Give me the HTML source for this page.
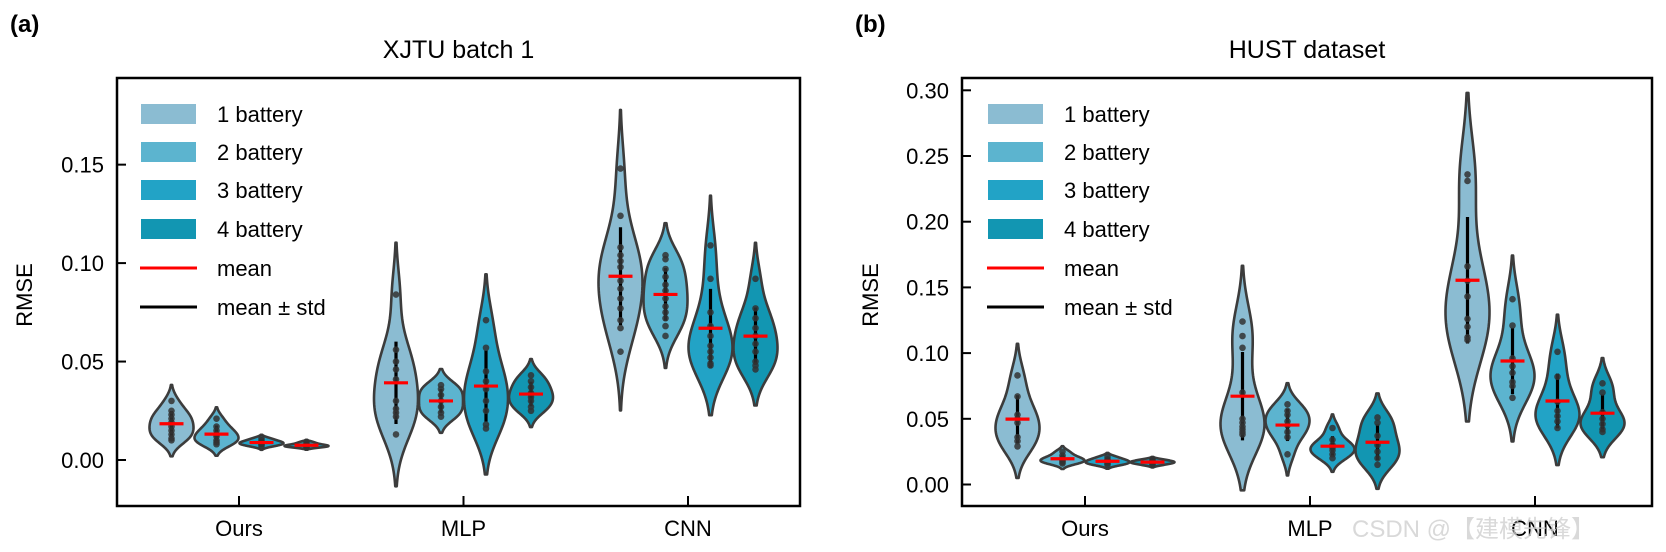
<!DOCTYPE html>
<html><head><meta charset="utf-8"><style>
html,body{margin:0;padding:0;background:#fff;}
svg{display:block;font-family:"Liberation Sans","Noto Sans CJK SC",sans-serif;}
</style></head><body>
<svg id="chart" width="1666" height="552" viewBox="0 0 1666 552" xmlns="http://www.w3.org/2000/svg"></svg>
<script>
const categories = ["Ours", "MLP", "CNN"];
const seriesNames = ["1 battery", "2 battery", "3 battery", "4 battery"];
const seriesColors = ["#8bbcd2", "#5cb4cf", "#22a3c6", "#1296b2"];
// Panel (a) XJTU batch 1 : [category][series] sample points
const xjtuOurs = [
  [0.030,0.025,0.023,0.021,0.019,0.017,0.015,0.013,0.011,0.010],
  [0.021,0.017,0.015,0.013,0.012,0.010,0.009,0.008],
  [0.011,0.010,0.009,0.009,0.008,0.008,0.007],
  [0.009,0.008,0.0075,0.007,0.007,0.0065]];
const xjtuMLP = [
  [0.084,0.056,0.050,0.046,0.041,0.030,0.026,0.024,0.022,0.013],
  [0.038,0.036,0.033,0.030,0.027,0.024,0.022],
  [0.071,0.057,0.045,0.040,0.036,0.030,0.025,0.018,0.016],
  [0.043,0.040,0.037,0.034,0.032,0.030,0.027,0.025]];
const xjtuCNN = [
  [0.148,0.124,0.108,0.104,0.101,0.098,0.091,0.087,0.082,0.077,0.071,0.067,0.055],
  [0.104,0.102,0.097,0.093,0.089,0.086,0.082,0.078,0.075,0.072,0.068,0.063],
  [0.109,0.092,0.075,0.068,0.063,0.058,0.055,0.052,0.049,0.048],
  [0.092,0.077,0.072,0.067,0.063,0.059,0.055,0.050,0.048,0.046]];
// Panel (b) HUST dataset
const hustOurs = [
  [0.083,0.067,0.053,0.050,0.047,0.036,0.033,0.029],
  [0.025,0.022,0.020,0.019,0.018,0.017,0.016],
  [0.021,0.019,0.018,0.017,0.016,0.015],
  [0.019,0.018,0.017,0.017,0.016,0.015]];
const hustMLP = [
  [0.124,0.113,0.104,0.070,0.050,0.047,0.044,0.042,0.040,0.038],
  [0.061,0.056,0.053,0.048,0.045,0.040,0.036,0.023],
  [0.043,0.034,0.030,0.028,0.026,0.023,0.020],
  [0.051,0.047,0.037,0.030,0.025,0.020,0.015]];
const hustCNN = [
  [0.236,0.231,0.166,0.155,0.143,0.126,0.120,0.112,0.110],
  [0.141,0.121,0.096,0.090,0.085,0.078,0.075,0.066],
  [0.101,0.082,0.063,0.056,0.052,0.048,0.043],
  [0.077,0.070,0.055,0.050,0.046,0.042,0.040]];
const xjtuTicks = [0.00, 0.05, 0.10, 0.15];
const xjtuTickLabels = ["0.00","0.05","0.10","0.15"];
const hustTicks = [0.00,0.05,0.10,0.15,0.20,0.25,0.30];
const hustTickLabels = ["0.00","0.05","0.10","0.15","0.20","0.25","0.30"];
const legendLabels = ["1 battery","2 battery","3 battery","4 battery","mean","mean \u00b1 std"];

const NS = "http://www.w3.org/2000/svg";
const svg = document.getElementById("chart");
function mk(tag, attrs, parent, text) {
  const e = document.createElementNS(NS, tag);
  for (const k in attrs) e.setAttribute(k, attrs[k]);
  if (text !== undefined) e.textContent = text;
  (parent || svg).appendChild(e);
  return e;
}
function stats(a) {
  const n = a.length, m = a.reduce((s,v)=>s+v,0)/n;
  const sd = Math.sqrt(a.reduce((s,v)=>s+(v-m)*(v-m),0)/(n-1));
  return {m, sd, n};
}

function panel(opt) {
  const g = mk("g", {});
  
  
  const L = opt.left, R = opt.right, T = 78, B = 506;
  const yS = v => opt.y0 - v * opt.ppu;
  const step = opt.step, dodge = 45;
  const xCat = i => opt.tick0 + i * step;

  const lab = mk("text", {x: opt.labelX, y: 32, "font-size": 24, "font-weight": "bold"}, g, opt.letter);
  
  
  const ttl = mk("text", {x: (L+R)/2, y: 58, "font-size": 25, "text-anchor": "middle"}, g, opt.title);
  
  
  const yt = mk("text", {transform: `translate(${opt.yTitleX},295) rotate(-90)`, "font-size": 22, "text-anchor": "middle"}, g, "RMSE");
  
  

  opt.groups.forEach((grp, ci) => {
    grp.forEach((pts, si) => {
      const cx = xCat(ci) + (si - 1.5) * dodge;
      const st = stats(pts);
      const bw = st.sd * Math.pow(st.n, -0.2);
      const lo = Math.min(...pts) - 2*bw, hi = Math.max(...pts) + 2*bw;
      const N = 80, dens = [];
      for (let k = 0; k <= N; k++) {
        const v = lo + (hi-lo)*k/N;
        let d = 0;
        pts.forEach(p => { const z = (v-p)/bw; d += Math.exp(-0.5*z*z); });
        dens.push([v, d]);
      }
      const mx = Math.max(...dens.map(d=>d[1]));
      const hw = 22;
      let path = "";
      dens.forEach((d,k) => { path += (k?"L":"M") + (cx + d[1]/mx*hw).toFixed(2) + "," + yS(d[0]).toFixed(2); });
      for (let k = dens.length-1; k >= 0; k--) path += "L" + (cx - dens[k][1]/mx*hw).toFixed(2) + "," + yS(dens[k][0]).toFixed(2);
      path += "Z";
      const vp = mk("path", {d: path, fill: seriesColors[si], stroke: "#3c3c3c", "stroke-width": 2.6, "stroke-linejoin": "round"}, g);
      
      
      const sb = mk("line", {x1: cx, x2: cx, y1: yS(st.m - st.sd), y2: yS(st.m + st.sd), stroke: "#000", "stroke-width": 3.2}, g);
      
      
      pts.forEach(p => {
        const c = mk("circle", {cx: cx, cy: yS(p), r: 3.3, fill: "#333", "fill-opacity": 0.85}, g);
        
        
      });
      const ml = mk("line", {x1: cx - 12, x2: cx + 12, y1: yS(st.m), y2: yS(st.m), stroke: "#ff0000", "stroke-width": 3.2}, g);
      
      
    });
  });

  const fr = mk("rect", {x: L, y: T, width: R-L, height: B-T, fill: "none", stroke: "#000", "stroke-width": 2.5}, g);
  
  
  opt.ticks.forEach((t, i) => {
    const y = yS(t);
    const tl = mk("line", {x1: L, x2: L + 9, y1: y, y2: y, stroke: "#000", "stroke-width": 2}, g);
    
    
    const tx = mk("text", {x: L - 13, y: y + 8, "font-size": 22, "text-anchor": "end"}, g, opt.tickLabels[i]);
    
    
  });
  categories.forEach((c, i) => {
    const x = xCat(i);
    const tl = mk("line", {x1: x, x2: x, y1: B, y2: B - 10, stroke: "#000", "stroke-width": 2}, g);
    
    
    const tx = mk("text", {x: x, y: 536, "font-size": 22, "text-anchor": "middle"}, g, c);
    
    
  });

  const lg = mk("g", {}, g);
  
  
  const rows = [114,152,190,229,268,307];
  legendLabels.forEach((t, i) => {
    const y = rows[i];
    let sw;
    if (i < 4) sw = mk("rect", {x: opt.legX, y: y - 10, width: 55, height: 20, fill: seriesColors[i]}, lg);
    else sw = mk("line", {x1: opt.legX - 1, x2: opt.legX + 56, y1: y, y2: y, stroke: i === 4 ? "#ff0000" : "#000", "stroke-width": 3}, lg);
    
    
    const tx = mk("text", {x: opt.legX + 76, y: y + 8, "font-size": 22}, lg, t);
    
    
  });
}

panel({name: "panel-a", letter: "(a)", title: "XJTU batch 1", labelX: 10, left: 117, right: 800,
  y0: 460, ppu: 1969, tick0: 239, step: 224.5, yTitleX: 32, legX: 141,
  groups: [xjtuOurs, xjtuMLP, xjtuCNN], ticks: xjtuTicks, tickLabels: xjtuTickLabels});
panel({name: "panel-b", letter: "(b)", title: "HUST dataset", labelX: 855, left: 962, right: 1652,
  y0: 484.5, ppu: 1314, tick0: 1085, step: 225, yTitleX: 878, legX: 988,
  groups: [hustOurs, hustMLP, hustCNN], ticks: hustTicks, tickLabels: hustTickLabels});

const wm = mk("text", {x: 1352, y: 537, "font-size": 24, fill: "#cfcfcf", "fill-opacity": 0.8}, svg, "CSDN @\u3010\u5efa\u6a21\u5148\u950b\u3011");


</script>
</body></html>
